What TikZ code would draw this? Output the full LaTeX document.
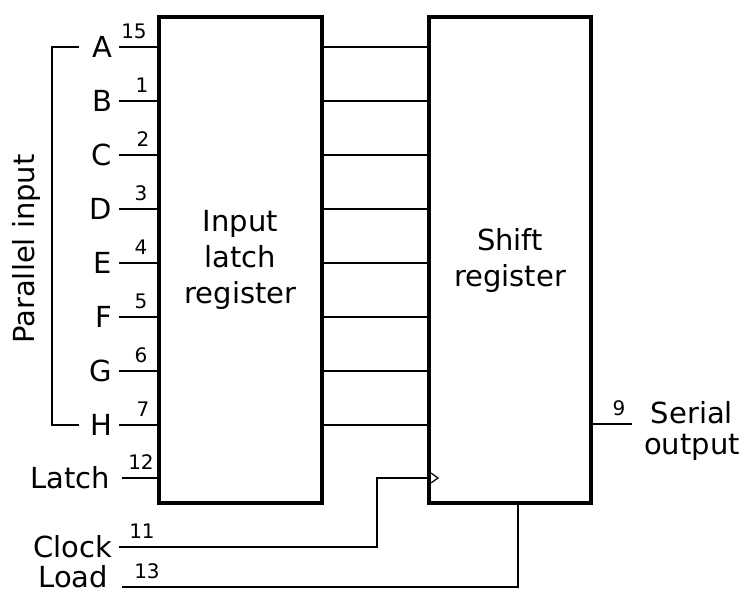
\documentclass[tikz,border=0pt]{standalone}
\usepackage{fontspec}
\setmainfont{DejaVu Sans}
\usetikzlibrary{positioning}

\begin{document}
\begin{tikzpicture}[x=1pt, y=-1pt,
    regbox/.style={draw, line width=4.5pt, minimum width=163pt, minimum height=486pt, align=center, font=\fontsize{29}{36}\selectfont},
    pinlabel/.style={anchor=east, inner sep=4pt, outer sep=3pt, font=\fontsize{29}{36}\selectfont},
    pinnum/.style={anchor=south, inner sep=0pt, font=\fontsize{20}{24}\selectfont},
    wire/.style={line width=1.8pt}
]

\useasboundingbox (0,0) rectangle (745,594);

\node[regbox] (latch) at (240.5,260) {Input\\latch\\register};
\node[regbox, minimum width=162pt] (shift) at (510,260) {Shift\\register};

\node[pinlabel] (inA) at (119,47) {A};
\node[pinlabel] (inB) at (119,101) {B};
\node[pinlabel] (inC) at (119,155) {C};
\node[pinlabel] (inD) at (119,209) {D};
\node[pinlabel] (inE) at (119,263) {E};
\node[pinlabel] (inF) at (119,317) {F};
\node[pinlabel] (inG) at (119,371) {G};
\node[pinlabel] (inH) at (119,425) {H};
\node[pinlabel, outer sep=8pt] (latchin) at (122,478) {Latch};
\node[pinlabel] (clockin) at (119,547) {Clock};
\node[pinlabel, inner sep=1pt, outer sep=13pt] (loadin) at (122,577) {Load};
\coordinate (ldstart) at (122,587);

\node[pinnum] (nA) at (134,39) {15};
\node[pinnum] (nB) at (142,93) {1};
\node[pinnum] (nC) at (143,147) {2};
\node[pinnum] (nD) at (141,201) {3};
\node[pinnum] (nE) at (141,255) {4};
\node[pinnum] (nF) at (141,309) {5};
\node[pinnum] (nG) at (141,363) {6};
\node[pinnum] (nH) at (143,417) {7};
\node[pinnum] (nL) at (141,470) {12};
\node[pinnum] (nC2) at (142,539) {11};
\node[pinnum] (nLd) at (147,579) {13};
\node[pinnum] (n9) at (619,416) {9};

\node[rotate=90, font=\fontsize{29}{36}\selectfont] (parin) at (26,249) {Parallel input};
\node[align=center, font=\fontsize{29}{31}\selectfont] (serout) at (692,431) {Serial\\output};

% inputs into the latch
\draw[wire] (inA.east) -- (inA.east -| latch.west);
\draw[wire] (inB.east) -- (inB.east -| latch.west);
\draw[wire] (inC.east) -- (inC.east -| latch.west);
\draw[wire] (inD.east) -- (inD.east -| latch.west);
\draw[wire] (inE.east) -- (inE.east -| latch.west);
\draw[wire] (inF.east) -- (inF.east -| latch.west);
\draw[wire] (inG.east) -- (inG.east -| latch.west);
\draw[wire] (inH.east) -- (inH.east -| latch.west);
\draw[wire] (latchin.east) -- (latchin.east -| latch.west);

% latch to shift register
\draw[wire] (inA -| latch.east) -- (inA -| shift.west);
\draw[wire] (inB -| latch.east) -- (inB -| shift.west);
\draw[wire] (inC -| latch.east) -- (inC -| shift.west);
\draw[wire] (inD -| latch.east) -- (inD -| shift.west);
\draw[wire] (inE -| latch.east) -- (inE -| shift.west);
\draw[wire] (inF -| latch.east) -- (inF -| shift.west);
\draw[wire] (inG -| latch.east) -- (inG -| shift.west);
\draw[wire] (inH -| latch.east) -- (inH -| shift.west);

% bracket
\coordinate (brA) at (79,47);
\coordinate (brH) at (79,425);
\coordinate (brtop) at (52,47);
\coordinate (brbot) at (52,425);
\draw[wire] (brA) -- (brtop) -- (brbot) -- (brH);

% clock and load
\coordinate (clkbend) at (377,478);
\draw[wire] (clockin.east) -| (clkbend) -- (clkbend -| shift.west);
\coordinate (clktri) at (431,478);
\draw[line width=1.2pt] ([yshift=5pt]clktri) -- ([xshift=7pt]clktri) -- ([yshift=-5pt]clktri);
\draw[wire] (ldstart) -| ([xshift=8pt]shift.south);

% serial out
\coordinate (serpin) at (632,424);
\draw[wire] (serpin -| shift.east) -- (serpin);

\end{tikzpicture}
\end{document}
